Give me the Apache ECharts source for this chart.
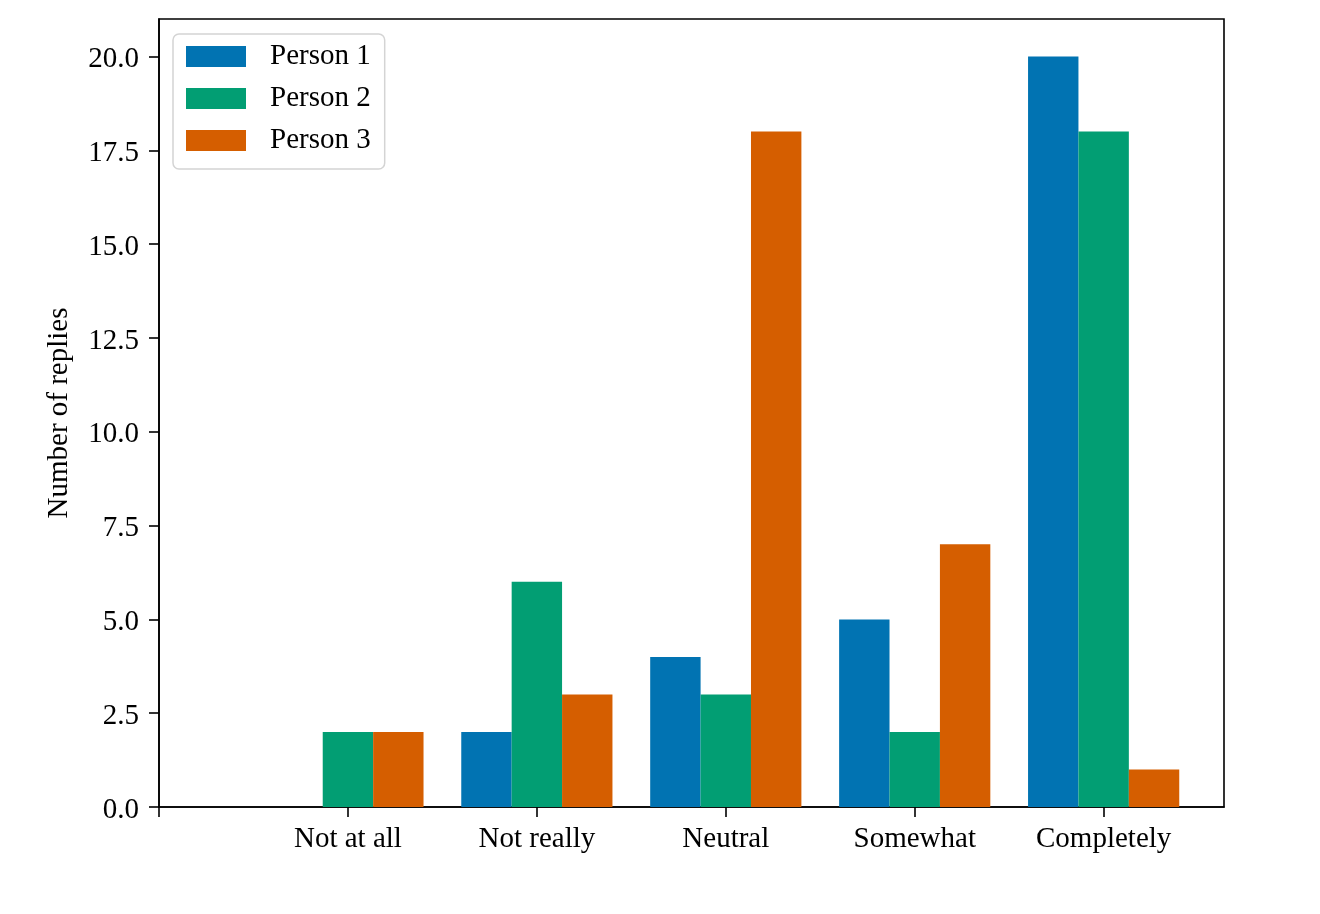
<!DOCTYPE html>
<html>
<head>
<meta charset="utf-8">
<script src="https://cdn.jsdelivr.net/npm/echarts@6/dist/echarts.min.js"></script>
<style>
html,body{margin:0;padding:0;background:#fff;}
#chart{width:1320px;height:914px;}
</style>
</head>
<body>
<div id="chart"></div>
<script>
const categories = ['Not at all', 'Not really', 'Neutral', 'Somewhat', 'Completely'];
const seriesNames = ['Person 1', 'Person 2', 'Person 3'];
const person1 = [0, 2, 4, 5, 20];
const person2 = [2, 6, 3, 2, 18];
const person3 = [2, 3, 18, 7, 1];
const yTicks = [0, 2.5, 5, 7.5, 10, 12.5, 15, 17.5, 20];
const colors = ['#0173B2', '#029E73', '#D55E00'];

const FONT = 'Liberation Serif';
const FS = 29;
const allData = [person1, person2, person3];

const chart = echarts.init(document.getElementById('chart'));
const positions = categories.map((c, i) => i + 1);

chart.setOption({
  animation: false,
  backgroundColor: '#fff',
  textStyle: { fontFamily: FONT },
  grid: {
    left: 159, top: 19, width: 1065, height: 788,
    show: true, borderColor: '#000', borderWidth: 1.6, backgroundColor: 'transparent'
  },
  legend: {
    left: 173, top: 34,
    orient: 'vertical',
    itemWidth: 60, itemHeight: 21, itemGap: 13,
    padding: [8, 14, 14, 13],
    borderColor: '#d4d4d4', borderWidth: 1.5, borderRadius: 6,
    backgroundColor: '#fff',
    icon: 'rect',
    data: seriesNames,
    textStyle: { fontFamily: FONT, fontSize: FS, color: '#000', lineHeight: 28, padding: [0, 0, 0, 19] }
  },
  xAxis: {
    type: 'value',
    min: 0, max: 5.637,
    splitLine: { show: false },
    axisLine: { show: true, lineStyle: { color: '#000', width: 1.6 } },
    axisTick: { show: true, length: 10, lineStyle: { color: '#000', width: 1.6 }, customValues: [0].concat(positions) },
    axisLabel: {
      customValues: positions,
      margin: 18,
      fontFamily: FONT, fontSize: FS, color: '#000',
      formatter: v => categories[Math.round(v) - 1] || ''
    }
  },
  yAxis: {
    type: 'value',
    min: 0, max: 21,
    name: 'Number of replies',
    nameLocation: 'middle',
    nameGap: 85,
    nameRotate: 90,
    nameTextStyle: { fontFamily: FONT, fontSize: FS, color: '#000' },
    splitLine: { show: false },
    axisLine: { show: true, lineStyle: { color: '#000', width: 1.6 } },
    axisTick: { show: true, length: 10, lineStyle: { color: '#000', width: 1.6 }, customValues: yTicks },
    axisLabel: {
      customValues: yTicks,
      margin: 20,
      fontFamily: FONT, fontSize: FS, color: '#000',
      formatter: v => '{a|' + v.toFixed(1) + '}',
      rich: { a: { fontFamily: FONT, fontSize: FS, color: '#000', padding: [6, 0, 0, 0] } }
    }
  },
  series: seriesNames.map((name, s) => ({
    name: name,
    type: 'bar',
    barWidth: 50.4,
    barGap: '0%',
    itemStyle: { color: colors[s] },
    data: allData[s].map((v, i) => [positions[i], v])
  }))
});
</script>
</body>
</html>
